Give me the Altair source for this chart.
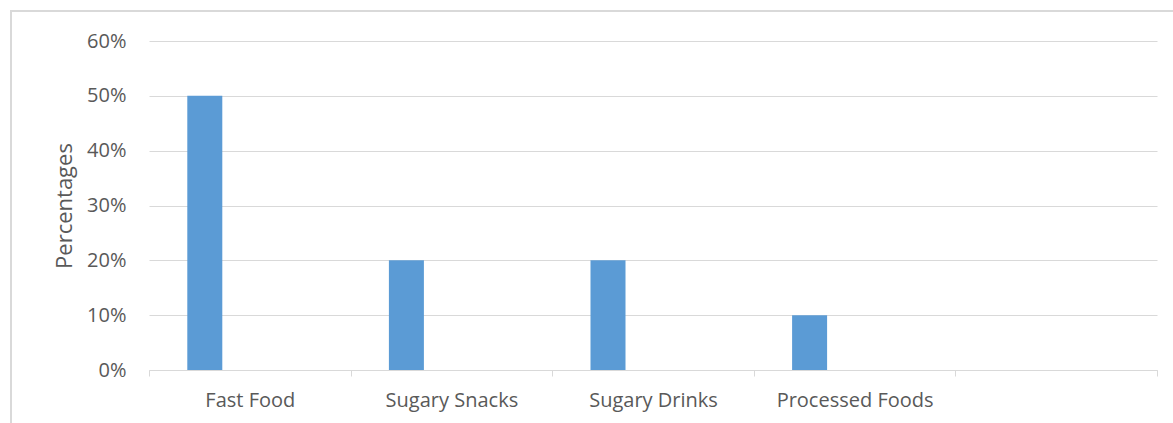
import altair as alt
import pandas as pd

# Share of unhealthy food choices by category
categories = ["Fast Food", "Sugary Snacks", "Sugary Drinks", "Processed Foods"]
percentages = [0.50, 0.20, 0.20, 0.10]
# the category axis carries one extra, unlabeled slot at the end
axis_domain = categories + [" "]

df = pd.DataFrame({"category": categories, "pct": percentages})

TEXT = "#595959"
GRID = "#d9d9d9"
FONT = "Open Sans"

x = alt.X(
    "category:N",
    sort=axis_domain,
    scale=alt.Scale(domain=axis_domain, paddingInner=0, paddingOuter=0),
    axis=alt.Axis(
        title=None,
        labelAngle=0,
        labelColor=TEXT,
        labelFont=FONT,
        labelFontSize=20,
        labelPadding=14,
        domainColor=GRID,
        tickColor=GRID,
        tickSize=6,
        tickBand="extent",
        grid=False,
    ),
)

y = alt.Y(
    "pct:Q",
    scale=alt.Scale(domain=[0, 0.6]),
    axis=alt.Axis(
        title="Percentages",
        values=[0, 0.1, 0.2, 0.3, 0.4, 0.5, 0.6],
        format=".0%",
        labelColor=TEXT,
        labelFont=FONT,
        labelFontSize=20,
        labelPadding=23,
        titleColor=TEXT,
        titleFont=FONT,
        titleFontSize=22,
        titleFontWeight="normal",
        titlePadding=10,
        domain=False,
        ticks=False,
        gridColor=GRID,
        gridWidth=1.2,
    ),
)

bars = alt.Chart(df).mark_bar(color="#5b9bd5", width=35, xOffset=-45).encode(x=x, y=y)

# light outer frame around the chart
frame = alt.Chart(df).mark_rect(
    fill=None, stroke=GRID, strokeWidth=1.5
).encode(
    x=alt.value(-138),
    x2=alt.value(1040),
    y=alt.value(-30),
    y2=alt.value(400),
)

chart = (
    alt.layer(frame, bars)
    .properties(
        width=1008,
        height=329,
        autosize=alt.AutoSizeParams(type="none"),
        padding={"left": 149, "top": 41, "right": 16, "bottom": 53},
        background="white",
    )
    .configure_view(stroke=None)
)

chart.save("out.html", embed_options={"renderer": "svg", "actions": False})
